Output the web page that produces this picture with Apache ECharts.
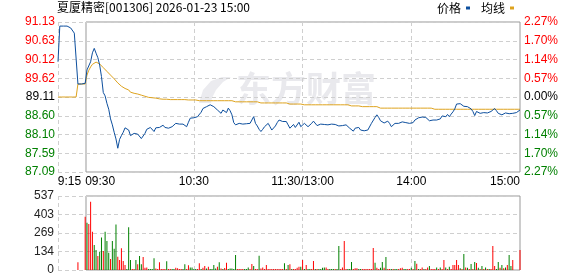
<!DOCTYPE html>
<html><head><meta charset="utf-8">
<script src="https://cdn.jsdelivr.net/npm/echarts@6/dist/echarts.min.js"></script>
<style>html,body{margin:0;padding:0;background:#fff}#c{width:578px;height:276px}</style>
</head><body><div id="c"></div>
<script>
const titleText = '夏厦精密[001306] 2026-01-23 15:00';
const seriesNames = ['价格', '均线'];
const watermarkText = '东方财富';
const priceMin = 87.09, priceMax = 91.13;
const volMax = 537;
const priceTicks = ['87.09','87.59','88.10','88.60','89.11','89.62','90.12','90.63','91.13'];
const pctTicks = ['2.27%','1.70%','1.14%','0.57%','0.00%','0.57%','1.14%','1.70%','2.27%'];
const volTicks = ['0','134','269','403','537'];
const xLabelTimes = ['09:15','09:30','10:30','11:30','14:00','15:00'];
const xLabelTexts = ['9:15','09:30','10:30','11:30/13:00','14:00','15:00'];
const gridLineTimes = ['09:15','10:30','11:30','14:00'];

// pre-market 9:15 - 9:29
const prePrice = [90.06,91.02,91.02,91.02,91.02,91.02,91.01,90.97,90.93,90.83,90.78,89.46,89.46,89.46,89.46];
const preAvg   = [89.11,89.11,89.11,89.11,89.11,89.11,89.11,89.11,89.11,89.11,89.11,89.46,89.46,89.46,89.46];
const preVolume = [null,null,null,null,null,null,null,null,null,null,null,56,null,null,null];
const preDir    = ['rrrrrrrrrrrrrrr'];

// 9:30 - 15:00
const price = [
89.48,89.84,89.79,90.06,90.30,90.42,90.29,90.17,89.97,89.66,
89.23,89.14,88.94,88.78,88.52,88.36,88.16,87.98,87.73,87.97,
88.07,88.16,88.28,88.29,88.22,88.07,88.07,88.13,88.08,88.11,
88.09,87.99,88.04,88.13,88.24,88.29,88.29,88.24,88.18,88.28,
88.28,88.29,88.32,88.35,88.29,88.28,88.27,88.31,88.31,88.33,
88.40,88.38,88.38,88.43,88.38,88.33,88.31,88.43,88.54,88.56,
88.55,88.58,88.58,88.55,88.70,88.80,88.84,88.85,88.88,88.90,
88.87,88.85,88.81,88.76,88.72,88.67,88.76,88.72,88.69,88.81,
88.74,88.63,88.42,88.36,88.38,88.40,88.38,88.38,88.40,88.39,
88.37,88.40,88.42,88.58,88.40,88.33,88.24,88.18,88.24,88.31,
88.36,88.40,88.31,88.22,88.27,88.33,88.42,88.49,88.51,88.45,
88.40,88.45,88.36,88.27,88.31,88.37,88.29,88.31,88.43,88.31,
88.31,88.40,88.36,88.31,88.36,88.40,88.46,88.49,88.34,88.37,
88.38,88.36,88.37,88.40,88.36,88.31,88.38,88.40,88.37,88.34,
88.33,88.38,88.34,88.39,88.36,88.31,88.27,88.22,88.19,88.27,
88.25,88.29,88.22,88.20,88.20,88.19,88.22,88.27,88.40,88.45,
88.56,88.63,88.56,88.47,88.43,88.41,88.40,88.46,88.40,88.31,
88.33,88.40,88.38,88.40,88.42,88.44,88.45,88.42,88.40,88.40,
88.40,88.42,88.49,88.54,88.55,88.56,88.57,88.58,88.56,88.52,
88.47,88.48,88.49,88.49,88.49,88.50,88.52,88.60,88.61,88.58,
88.64,88.58,88.65,88.71,88.79,88.92,88.94,88.93,88.91,88.86,
88.84,88.85,88.85,88.79,88.72,88.61,88.72,88.67,88.67,88.68,
88.69,88.67,88.68,88.69,88.72,88.73,88.80,88.74,88.67,88.70,
88.63,88.67,88.68,88.67,88.66,88.67,88.67,88.67,88.69,88.73,
88.76];
const avg = [
89.46,89.70,89.83,89.92,89.99,90.03,90.05,90.04,90.00,89.95,
89.90,89.85,89.80,89.75,89.70,89.65,89.60,89.55,89.49,89.44,
89.40,89.37,89.34,89.32,89.30,89.24,89.22,89.21,89.20,89.19,
89.18,89.16,89.15,89.13,89.11,89.10,89.09,89.09,89.08,89.08,
89.07,89.06,89.06,89.05,89.05,89.05,89.04,89.04,89.04,89.04,
89.04,89.04,89.04,89.04,89.04,89.04,89.03,89.03,89.03,89.03,
89.03,89.03,89.03,89.01,89.01,89.01,89.01,89.01,89.01,89.01,
89.01,89.01,89.01,89.01,89.01,89.01,89.01,89.01,89.01,89.01,
89.01,89.01,88.98,88.98,88.98,88.98,88.98,88.98,88.98,88.98,
88.98,88.98,88.98,88.98,88.98,88.98,88.98,88.95,88.95,88.95,
88.95,88.95,88.95,88.95,88.95,88.95,88.95,88.95,88.95,88.95,
88.95,88.95,88.95,88.92,88.92,88.92,88.92,88.92,88.92,88.92,
88.92,88.90,88.90,88.90,88.90,88.90,88.90,88.90,88.90,88.90,
88.90,88.90,88.90,88.90,88.90,88.90,88.90,88.90,88.90,88.90,
88.90,88.90,88.90,88.90,88.90,88.90,88.87,88.87,88.87,88.87,
88.87,88.87,88.85,88.85,88.85,88.85,88.85,88.85,88.85,88.85,
88.85,88.85,88.85,88.81,88.81,88.81,88.81,88.81,88.81,88.81,
88.81,88.81,88.81,88.81,88.81,88.81,88.81,88.81,88.81,88.81,
88.81,88.81,88.81,88.81,88.81,88.81,88.81,88.81,88.81,88.81,
88.81,88.81,88.81,88.78,88.78,88.78,88.78,88.78,88.78,88.78,
88.78,88.78,88.78,88.78,88.78,88.78,88.78,88.78,88.78,88.78,
88.78,88.78,88.78,88.78,88.78,88.78,88.78,88.78,88.78,88.78,
88.78,88.78,88.78,88.78,88.78,88.78,88.78,88.78,88.78,88.78,
88.78,88.78,88.78,88.78,88.78,88.78,88.78,88.78,88.78,88.78,
88.78];
const volume = [
387,343,334,496,278,181,145,102,133,235,
138,278,210,126,80,210,155,331,97,73,
157,65,36,7,310,73,7,7,73,41,
102,41,94,17,19,7,7,7,85,10,
7,56,7,7,7,63,7,7,7,7,
17,12,7,7,7,41,7,34,19,19,
7,7,7,49,7,17,29,10,24,7,
7,36,10,24,56,10,7,14,53,7,
10,10,7,109,7,7,7,7,7,7,
19,7,44,29,7,7,104,10,19,7,
36,7,7,7,7,7,7,7,7,7,
49,7,36,41,7,7,7,17,24,24,
73,7,36,7,7,7,65,7,7,7,
7,17,19,19,7,7,7,7,7,7,
174,7,19,210,7,7,7,58,7,12,
12,7,7,7,7,7,7,7,7,160,
52,17,7,17,58,17,94,7,7,7,
7,7,7,7,12,17,7,7,7,7,
17,7,65,46,7,7,19,7,7,19,
29,7,7,7,19,7,19,7,73,19,
7,24,7,36,36,73,36,12,7,116,
19,17,7,44,7,58,51,17,7,29,
7,19,7,7,7,174,29,7,58,17,
36,12,19,36,109,29,73,0,0,0,
145];
// r = up minute (red), g = down minute (green), 10 minutes per chunk
const volDir = [
'rgrrrggrgg','rgggrgggrr','rrrgggrrgr','ggrrrggggr','rrrrrgrrgg',
'rrrrggrrgg','ggrrgrrgrg','gggrgrgrrg','ggggrrrrgg','grrgrrgrrr',
'rrrrrrrrrr','grgrgrrrrg','rgrggrrgrg','gggrrgggrg','grrrrgggrr',
'rggrrrrrrr','grrggrgrrg','rggrrrggrr','grgrgrrgrr','grrrgrgrrg',
'rgrrrrrgrg','rgrgrgrgrg','rgrgrrrggr','grgrggrrrr','r'];

function buildTimes() {
  const t = [];
  const fmt = m => String(Math.floor(m / 60)).padStart(2, '0') + ':' + String(m % 60).padStart(2, '0');
  for (let m = 9 * 60 + 15; m < 9 * 60 + 30; m++) t.push(fmt(m));
  for (let m = 9 * 60 + 30; m <= 11 * 60 + 30; m++) t.push(fmt(m));
  for (let m = 13 * 60 + 1; m <= 15 * 60; m++) t.push(fmt(m));
  return t;
}
const times = buildTimes();
const allPrice = prePrice.concat(price);
const allAvg = preAvg.concat(avg);
const allVol = preVolume.concat(volume);
const allDir = preDir.join('') + volDir.join('');

const UP = '#ff0000', DOWN = '#008000', FLAT = '#000000';
const GRID_LINE = { color: '#cfcfcf', type: [4, 3], width: 1 };
const NUM_FONT = 'Liberation Sans';
const CJK_FONT = 'Noto Sans CJK SC';

const chart = echarts.init(document.getElementById('c'), null, { renderer: 'canvas' });

const xLabel = {
  show: true, margin: 4, color: '#000', fontSize: 12, fontFamily: NUM_FONT,
  interval: (i, v) => xLabelTimes.indexOf(v) >= 0,
  formatter: (v) => {
    const k = xLabelTimes.indexOf(v);
    const txt = xLabelTexts[k];
    if (k === 0) return '{a|' + txt + '}';
    if (k === 1) return '{b|' + txt + '}';
    if (k === xLabelTimes.length - 1) return '{c|' + txt + '}';
    return txt;
  },
  rich: {
    a: { fontSize: 12, fontFamily: NUM_FONT, color: '#000', padding: [0, 0, 0, 23] },
    b: { fontSize: 12, fontFamily: NUM_FONT, color: '#000', padding: [0, 0, 0, 30] },
    c: { fontSize: 12, fontFamily: NUM_FONT, color: '#000', padding: [0, 30, 0, 0] }
  }
};
const xSplit = { show: true, interval: (i, v) => gridLineTimes.indexOf(v) >= 0, lineStyle: GRID_LINE };

const option = {
  animation: false,
  backgroundColor: '#fff',
  title: {
    text: titleText, left: 57, top: 1, padding: 0,
    textStyle: { fontSize: 12, fontWeight: 'normal', color: '#000', fontFamily: CJK_FONT }
  },
  legend: {
    data: seriesNames, right: 64, top: 2, padding: 0, align: 'right',
    icon: 'rect', itemWidth: 4, itemHeight: 3, itemGap: 11,
    textStyle: { fontSize: 12, color: '#000', fontFamily: CJK_FONT }
  },
  graphic: [
    { type: 'polygon', z: 0, silent: true,
      shape: { points: [[199,103],[203,90],[211,81],[222,77],[231,77],[223,82],[216,90],[212,98],[211,103]] },
      style: { fill: '#ebebef' } },
    { type: 'text', left: 236, top: 71, z: 0, silent: true,
      style: { text: watermarkText, font: 'bold 35px "Noto Sans CJK SC"', fill: '#e9e9ed' } }
  ],
  grid: [
    { left: 58, width: 462, top: 22, height: 150 },
    { left: 58, width: 462, top: 196, height: 74 },
    { left: 86, width: 434, top: 22, height: 150, show: true, borderColor: '#999', borderWidth: 1, backgroundColor: 'transparent' },
    { left: 86, width: 434, top: 196, height: 74, show: true, borderColor: '#999', borderWidth: 1, backgroundColor: 'transparent' }
  ],
  xAxis: [
    { gridIndex: 0, type: 'category', data: times, boundaryGap: false,
      axisLine: { show: false }, axisTick: { show: false }, axisLabel: xLabel, splitLine: xSplit },
    { gridIndex: 1, type: 'category', data: times, boundaryGap: false,
      axisLine: { show: false }, axisTick: { show: false }, axisLabel: { show: false }, splitLine: xSplit },
    { gridIndex: 2, type: 'value', min: 0, max: 1, show: false },
    { gridIndex: 3, type: 'value', min: 0, max: 1, show: false }
  ],
  yAxis: [
    { gridIndex: 0, type: 'value', min: priceMin, max: priceMax, show: false },
    { gridIndex: 0, type: 'value', min: 0, max: priceTicks.length - 1, interval: 1, position: 'left',
      axisLine: { show: false }, axisTick: { show: false }, splitLine: { show: true, lineStyle: GRID_LINE },
      axisLabel: { margin: 3, fontSize: 12, fontFamily: NUM_FONT,
        formatter: v => priceTicks[v],
        color: v => v > 4 ? UP : (v < 4 ? DOWN : FLAT) } },
    { gridIndex: 0, type: 'value', min: 0, max: pctTicks.length - 1, interval: 1, position: 'right',
      axisLine: { show: false }, axisTick: { show: false }, splitLine: { show: false },
      axisLabel: { margin: 4, fontSize: 12, fontFamily: NUM_FONT,
        formatter: v => pctTicks[v],
        color: v => v > 4 ? UP : (v < 4 ? DOWN : FLAT) } },
    { gridIndex: 1, type: 'value', min: 0, max: volMax, show: false },
    { gridIndex: 1, type: 'value', min: 0, max: volTicks.length - 1, interval: 1, position: 'left',
      axisLine: { show: false }, axisTick: { show: false }, splitLine: { show: true, lineStyle: GRID_LINE },
      axisLabel: { margin: 4, fontSize: 12, fontFamily: NUM_FONT, color: '#222', formatter: v => volTicks[v] } },
    { gridIndex: 2, type: 'value', min: 0, max: 1, show: false },
    { gridIndex: 3, type: 'value', min: 0, max: 1, show: false }
  ],
  series: [
    { name: seriesNames[0], type: 'line', xAxisIndex: 0, yAxisIndex: 0, data: allPrice,
      showSymbol: false, symbol: 'none', z: 4,
      lineStyle: { color: '#0d4f9e', width: 1 }, itemStyle: { color: '#0d4f9e' } },
    { name: seriesNames[1], type: 'line', xAxisIndex: 0, yAxisIndex: 0, data: allAvg,
      showSymbol: false, symbol: 'none', z: 3,
      lineStyle: { color: '#dea31e', width: 1 }, itemStyle: { color: '#dea31e' } },
    { name: 'volume', type: 'bar', xAxisIndex: 1, yAxisIndex: 3, barWidth: 1,
      data: allVol.map((v, i) => ({ value: v, itemStyle: { color: allDir[i] === 'r' ? UP : DOWN } })) }
  ]
};
chart.setOption(option);
</script>
</body></html>
